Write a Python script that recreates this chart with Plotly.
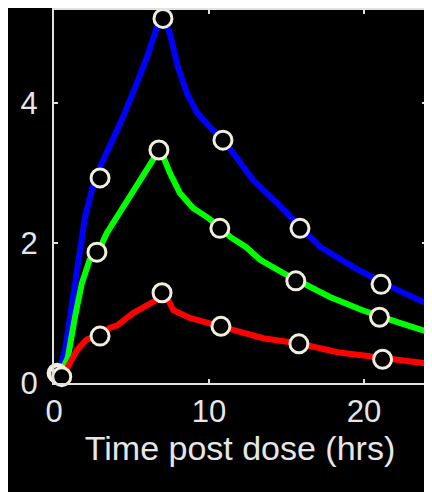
import plotly.graph_objects as go

# Fitted curves
blue_t = [0.2, 0.71, 1.03, 1.35, 1.68, 2.0, 2.45, 2.97, 3.48, 4.45, 5.35, 6.0, 6.65, 7.03,
          7.48, 8.0, 8.58, 9.23, 10.06, 10.9, 11.55, 12.84, 14.4, 15.87, 17.2, 19.3, 21.2, 24.0]
blue_y = [0.07, 0.47, 0.94, 1.43, 1.9, 2.37, 2.76, 3.09, 3.33, 3.8, 4.29, 4.66, 5.09, 5.26,
          4.99, 4.51, 4.14, 3.86, 3.66, 3.47, 3.29, 2.9, 2.57, 2.23, 1.94, 1.66, 1.43, 1.14]

green_t = [0.3, 0.9, 1.35, 1.8, 2.3, 2.9, 3.4, 4.06, 4.9, 5.35, 6.4, 6.84,
           7.48, 8.13, 8.97, 9.94, 10.8, 11.35, 12.4, 13.3, 14.8, 15.8, 17.8, 19.9, 21.1, 22.3, 24.0]
green_y = [0.07, 0.37, 0.94, 1.43, 1.76, 1.9, 2.14, 2.37, 2.66, 2.8, 3.19, 3.35,
           3.0, 2.71, 2.5, 2.36, 2.21, 2.09, 1.94, 1.76, 1.57, 1.46, 1.23, 1.04, 0.94, 0.86, 0.74]

red_t = [0.5, 1.48, 2.1, 2.97, 3.6, 4.06, 5.1, 6.4, 7.16, 7.7, 8.77, 9.87, 10.8,
         11.55, 13.5, 15.9, 18.3, 21.1, 22.3, 24.0]
red_y = [0.07, 0.47, 0.62, 0.69, 0.79, 0.82, 1.0, 1.16, 1.28, 1.04, 0.93, 0.87, 0.81,
         0.76, 0.64, 0.56, 0.44, 0.35, 0.33, 0.28]

# Observed data points (circles)
blue_obs_t = [0.2, 2.97, 7.03, 10.9, 15.87, 21.1]
blue_obs_y = [0.14, 2.93, 5.21, 3.47, 2.21, 1.41]
green_obs_t = [0.3, 2.77, 6.77, 10.7, 15.6, 21.0]
green_obs_y = [0.12, 1.87, 3.33, 2.21, 1.46, 0.94]
red_obs_t = [0.5, 2.97, 6.97, 10.77, 15.8, 21.2]
red_obs_y = [0.09, 0.67, 1.29, 0.81, 0.56, 0.34]

x_ticks = [0, 10, 20]
y_ticks = [0, 2, 4]
x_title = "Time post dose (hrs)"

fig = go.Figure()
for t, y, c in [(blue_t, blue_y, "#0000ff"), (green_t, green_y, "#00ff00"), (red_t, red_y, "#ff0000")]:
    fig.add_trace(go.Scatter(x=t, y=y, mode="lines", line=dict(color=c, width=6),
                             showlegend=False, hoverinfo="skip"))
for t, y in [(blue_obs_t, blue_obs_y), (green_obs_t, green_obs_y), (red_obs_t, red_obs_y)]:
    fig.add_trace(go.Scatter(x=t, y=y, mode="markers", cliponaxis=False,
                             marker=dict(size=18, color="black", line=dict(color="#f2eedf", width=3)),
                             showlegend=False))

font = dict(family="Liberation Sans, Arial, sans-serif", size=31, color="#e6e6e6")
title_font = dict(family="Liberation Sans, Arial, sans-serif", size=34, color="#e6e6e6")
axis_common = dict(showgrid=False, zeroline=False, showline=True, linecolor="#e0e0e0", linewidth=2,
                   mirror="ticks", ticks="inside", ticklen=4, tickwidth=2, tickcolor="#e0e0e0",
                   tickfont=font, automargin=False)
fig.update_xaxes(range=[0, 24], tickvals=x_ticks, ticktext=[str(v) for v in x_ticks],
                 title=dict(text=x_title, font=title_font, standoff=4), **axis_common)
fig.update_yaxes(range=[0, 5.33], tickvals=y_ticks, ticktext=[str(v) for v in y_ticks],
                 ticklabelstandoff=8, **axis_common)
fig.update_layout(width=424, height=484, paper_bgcolor="black", plot_bgcolor="black",
                  margin=dict(l=46, r=6, t=2, b=109), font=font)
fig.write_html("out.html")
